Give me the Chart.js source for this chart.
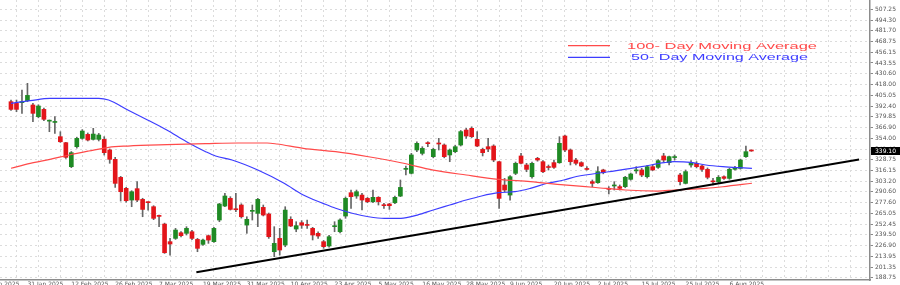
<!DOCTYPE html>
<html><head><meta charset="utf-8">
<script src="https://cdn.jsdelivr.net/npm/chart.js@4.4.1/dist/chart.umd.min.js"></script>
<style>html,body{margin:0;padding:0;background:#fff;}#wrap{width:900px;height:285px;}</style>
</head><body><div id="wrap"><canvas id="c" width="900" height="285"></canvas></div>
<script>
// ---- data (bar index 0..135 = daily bars) ----
const openP  = [397.6,395.6,396.5,398.8,393.7,379.8,388.5,374.5,373.0,356.1,349.0,320.5,344.2,354.1,358.8,352.9,352.9,352.9,340.3,329.2,307.8,294.8,280.9,294.4,281.7,278.5,273.0,262.3,252.4,231.5,235.4,242.1,241.4,243.3,234.2,228.3,238.6,231.5,257.2,273.8,282.9,270.2,275.0,251.2,267.5,265.1,272.2,264.3,219.6,235.4,227.5,258.0,246.5,254.0,251.5,247.3,241.4,231.5,226.4,249.3,243.3,261.9,289.6,285.7,286.8,282.9,278.9,284.1,274.6,276.2,277.7,285.6,317.3,312.6,340.3,336.3,348.6,332.4,348.6,346.2,334.4,338.3,346.2,364.0,366.0,352.9,341.0,344.2,345.0,326.4,298.7,286.8,312.6,333.2,322.5,308.6,330.4,326.4,320.5,325.3,325.2,356.9,340.3,328.4,325.3,317.6,302.7,301.5,316.6,294.8,297.6,296.8,296.8,305.5,315.5,316.6,308.6,320.5,319.7,333.2,325.3,331.3,310.6,300.7,322.5,324.5,321.3,317.3,303.5,302.7,308.6,306.6,317.4,318.5,332.4,339.9];
const highP  = [399.6,399.6,411.5,419.4,395.6,394.0,390.0,375.9,379.8,362.0,349.5,338.5,355.5,364.5,360.5,366.0,360.0,356.1,341.5,331.6,309.0,296.0,292.0,302.7,283.0,278.9,274.2,263.1,253.5,235.4,247.3,243.5,249.3,245.0,235.4,234.5,239.4,248.5,277.0,288.9,284.9,288.9,276.5,261.1,275.0,282.9,275.0,265.5,249.3,247.3,273.0,261.1,255.2,256.4,257.2,248.5,243.3,233.0,239.0,255.2,258.5,284.5,292.8,292.8,288.8,284.0,292.8,284.9,277.0,277.0,285.5,304.7,321.3,336.3,350.1,344.2,350.1,342.5,354.1,347.5,341.5,346.0,363.5,366.0,367.8,362.1,342.5,354.1,346.5,326.8,306.6,310.0,326.0,336.3,324.5,326.0,331.6,327.6,322.5,328.4,356.1,358.1,341.5,330.4,326.4,320.5,304.7,320.5,317.5,296.8,302.7,298.8,309.0,313.0,320.5,318.5,322.0,322.5,329.0,336.3,333.2,334.4,312.6,316.6,327.6,326.4,322.5,319.0,306.6,310.0,309.5,318.5,321.0,329.5,345.0,340.3];
const lowP   = [387.3,385.7,383.8,397.6,373.9,378.5,375.1,362.0,360.0,349.3,330.4,319.3,342.5,353.0,351.0,352.1,351.0,334.3,324.5,295.9,279.7,278.5,273.0,278.9,261.1,269.0,257.6,249.3,217.6,215.6,234.2,237.0,239.4,234.0,219.6,227.0,229.5,230.5,255.2,273.0,269.0,267.1,259.5,241.4,257.2,249.3,262.0,235.4,213.7,215.6,225.5,249.3,243.3,247.3,247.3,233.5,235.4,223.6,225.0,243.3,242.0,259.2,271.1,282.9,269.1,277.7,277.7,275.0,271.1,269.8,276.5,284.9,310.6,311.8,338.3,334.4,344.2,331.0,340.3,331.0,326.4,337.0,345.0,354.1,355.0,344.2,333.2,338.3,326.4,271.1,290.8,280.9,311.0,323.7,314.5,307.0,327.0,313.4,316.5,318.5,324.5,338.3,322.5,322.5,320.5,316.5,296.8,300.7,312.0,288.1,292.8,292.8,295.5,304.5,312.6,308.6,307.0,315.8,318.5,326.4,322.5,328.4,298.8,300.0,320.0,319.0,315.0,306.0,298.8,301.0,305.5,305.5,316.5,317.5,331.5,338.7];
const closeP = [388.5,388.5,397.2,405.1,383.8,392.5,376.7,375.1,374.0,350.1,331.6,337.1,354.1,362.8,352.1,359.2,358.1,337.1,329.2,300.7,290.8,280.1,290.8,280.9,269.8,277.8,259.2,261.5,218.4,228.7,245.3,238.6,247.3,235.4,223.6,233.4,233.4,247.3,276.2,285.7,269.8,269.4,261.1,258.0,268.3,281.7,263.1,237.4,229.5,221.6,269.0,250.1,250.5,251.0,250.8,239.4,238.2,225.6,237.4,250.0,257.2,282.9,284.9,290.8,280.9,278.9,284.1,278.9,274.2,274.2,284.1,295.9,318.5,334.4,348.2,342.2,347.8,341.0,347.4,332.4,340.3,344.2,362.1,356.9,356.1,345.0,337.1,341.5,328.4,282.9,292.8,308.6,324.5,324.5,317.3,324.5,328.4,314.5,319.5,319.7,348.2,340.3,326.4,324.5,321.3,317.2,300.7,314.6,313.4,293.6,298.8,294.8,307.9,311.8,316.6,310.6,320.5,316.6,327.6,328.4,332.4,331.9,302.7,314.6,325.3,320.5,317.3,307.9,302.5,307.9,306.6,317.4,319.7,328.4,338.3,339.1];

// moving averages (bar index, value)
const ma100Bars = [0,3.5,7.1,10.6,14.2,17.8,21.3,28.4,35.5,41.4,46.7,48.5,53.3,59.2,65.2,71.1,77,83,88.9,94.7,100.8,106.6,112,117.9,120.9,126.7,129.8,135.1];
const ma100Vals = [318.6,324.5,329.2,334.4,339.1,343.5,345.0,346.6,347.8,348.6,348.6,347.4,342.3,338.3,332.3,325.2,316.5,310.6,305.5,302.7,298.8,295.8,292.8,291.6,292.8,294.8,296.7,300.8];
const ma50Bars  = [0,3.5,7.1,16,17.8,21.3,24.9,28.4,32,35.5,37.3,40.3,45,49.8,53.3,56.9,59.2,62.2,65.2,68.1,71.1,74.1,77,80,83,85.8,88.9,91.9,94.7,97.8,100.8,103.1,109,115,119.1,120.9,123.9,126.7,129.8,132.8,135.1];
const ma50Vals  = [395.7,398.8,401.6,401.6,399.6,387.7,375.9,364.0,350.1,338.3,333.2,328.4,316.5,300.8,286.9,277.0,271.1,265.2,261.1,259.2,259.2,263.1,269.1,275.0,280.9,285.7,289.6,290.8,294.8,300.8,304.7,308.8,314.5,320.5,325.2,326.4,325.7,322.5,320.5,319.3,318.6];
// support trend line
const trendBars = [33.8, 154.64];
const trendVals = [195.3, 329.0];

// axis labels
const xTickBars   = [-5,3,11,19,27,35,43,51,59,67,75,83,91,99,107,115,123,131];
const xTickLabels = ['21 Jan 2025','31 Jan 2025','12 Feb 2025','26 Feb 2025','7 Mar 2025','19 Mar 2025','31 Mar 2025','10 Apr 2025','23 Apr 2025','5 May 2025','16 May 2025','28 May 2025','9 Jun 2025','20 Jun 2025','2 Jul 2025','15 Jul 2025','25 Jul 2025','6 Aug 2025'];
const yTickLabels = ['507.25','494.30','481.70','468.75','456.15','443.55','430.60','418.00','405.05','392.40','379.85','366.90','354.00','341.40','328.75','316.15','303.20','290.60','277.60','265.05','252.45','239.50','226.90','213.95','201.35','188.75'];
const seriesNames = ['100- Day Moving Average','50- Day Moving Average'];

// ---- layout ----
const X_MIN = -0.0222, X_MAX = 154.644, Y_MIN = 186.02, Y_MAX = 518.29;
const GREEN = '#1f8a24', RED = '#e3151a';
const gridBars = []; for (let b = -5; b <= X_MAX; b += 4) gridBars.push(b);

const bodyData = openP.map((o, i) => ({x: i, y: [o, closeP[i]]}));
const wickData = lowP.map((l, i) => ({x: i, y: [l, highP[i]]}));
const bodyColors = openP.map((o, i) => closeP[i] >= o ? GREEN : RED);

const legendPlugin = {
  id: 'maLegend',
  afterDatasetsDraw(chart) {
    const ctx = chart.ctx;
    const items = [
      {ds: chart.data.datasets[0], y: 45.7, tx: 627, tw: 190},
      {ds: chart.data.datasets[1], y: 57.3, tx: 631, tw: 177}
    ];
    ctx.save();
    items.forEach(it => {
      ctx.strokeStyle = it.ds.borderColor; ctx.lineWidth = 1.3;
      ctx.beginPath(); ctx.moveTo(568, it.y); ctx.lineTo(610, it.y); ctx.stroke();
      ctx.font = '9px "Liberation Sans", Arial, sans-serif';
      ctx.textBaseline = 'middle'; ctx.textAlign = 'left';
      const w = ctx.measureText(it.ds.label).width;
      ctx.save();
      ctx.translate(it.tx, it.y); ctx.scale(it.tw / w, 1);
      ctx.fillStyle = it.ds.borderColor; ctx.fillText(it.ds.label, 0, 0.5);
      ctx.restore();
    });
    ctx.restore();
  }
};
const priceTagPlugin = {
  id: 'priceTag',
  afterDraw(chart) {
    const ctx = chart.ctx, ys = chart.scales.y;
    const last = closeP[closeP.length - 1];
    const py = ys.getPixelForValue(last);
    ctx.save();
    ctx.fillStyle = '#000';
    ctx.fillRect(ys.left + 1, py - 4, ys.right - ys.left - 1, 8);
    ctx.fillStyle = '#fff';
    ctx.font = '6px "DejaVu Sans", sans-serif';
    ctx.textBaseline = 'middle'; ctx.textAlign = 'left';
    ctx.fillText(last.toFixed(2), ys.left + 5, py + 0.5);
    ctx.restore();
  }
};

new Chart(document.getElementById('c'), {
  type: 'bar',
  data: {
    datasets: [
      {type: 'line', label: seriesNames[0], data: ma100Bars.map((b, i) => ({x: b, y: ma100Vals[i]})),
       borderColor: '#ff4a4a', borderWidth: 1.2, pointRadius: 0, cubicInterpolationMode: 'monotone', order: 1},
      {type: 'line', label: seriesNames[1], data: ma50Bars.map((b, i) => ({x: b, y: ma50Vals[i]})),
       borderColor: '#3d3dff', borderWidth: 1.2, pointRadius: 0, cubicInterpolationMode: 'monotone', order: 1},
      {type: 'line', label: 'Trend', data: trendBars.map((b, i) => ({x: b, y: trendVals[i]})),
       borderColor: '#000', borderWidth: 2, pointRadius: 0, order: 0},
      {type: 'bar', label: 'Range', data: wickData, backgroundColor: '#666', barThickness: 1,
       grouped: false, order: 3},
      {type: 'bar', label: 'Body', data: bodyData, backgroundColor: bodyColors, barThickness: 4,
       minBarLength: 1, grouped: false, order: 2}
    ]
  },
  options: {
    responsive: false, animation: false, devicePixelRatio: 1,
    layout: {padding: 0},
    plugins: {legend: {display: false}, tooltip: {enabled: false}},
    scales: {
      x: {
        type: 'linear', min: X_MIN, max: X_MAX, position: 'bottom',
        afterBuildTicks: s => { s.ticks = gridBars.map(v => ({value: v})); },
        afterFit: s => { s.height = 5; s.paddingLeft = 0; s.paddingRight = 0; },
        ticks: {autoSkip: false, maxRotation: 0, minRotation: 0, align: 'start', padding: 1,
          font: {size: 6, family: 'DejaVu Sans'}, color: '#555',
          callback: v => { const k = xTickBars.indexOf(v); return k >= 0 ? xTickLabels[k] : ''; }},
        grid: {color: '#dcdcdc', drawTicks: false, lineWidth: 1},
        border: {display: true, color: '#8c8c8c', width: 1.5, dash: [2, 3]}
      },
      y: {
        type: 'linear', position: 'right', min: Y_MIN, max: Y_MAX,
        afterBuildTicks: s => { s.ticks = yTickLabels.map(t => ({value: parseFloat(t)})); },
        afterFit: s => { s.width = 30; s.paddingTop = 0; s.paddingBottom = 0; },
        ticks: {padding: 2, font: {size: 6, family: 'DejaVu Sans'}, color: '#555',
          callback: (v, i) => yTickLabels[i]},
        grid: {color: '#dcdcdc', lineWidth: 1, drawTicks: true, tickLength: 3, tickColor: '#888', tickBorderDash: []},
        border: {display: true, color: '#8c8c8c', width: 1.5, dash: [2, 3]}
      }
    }
  },
  plugins: [legendPlugin, priceTagPlugin]
});
</script>
</body></html>
